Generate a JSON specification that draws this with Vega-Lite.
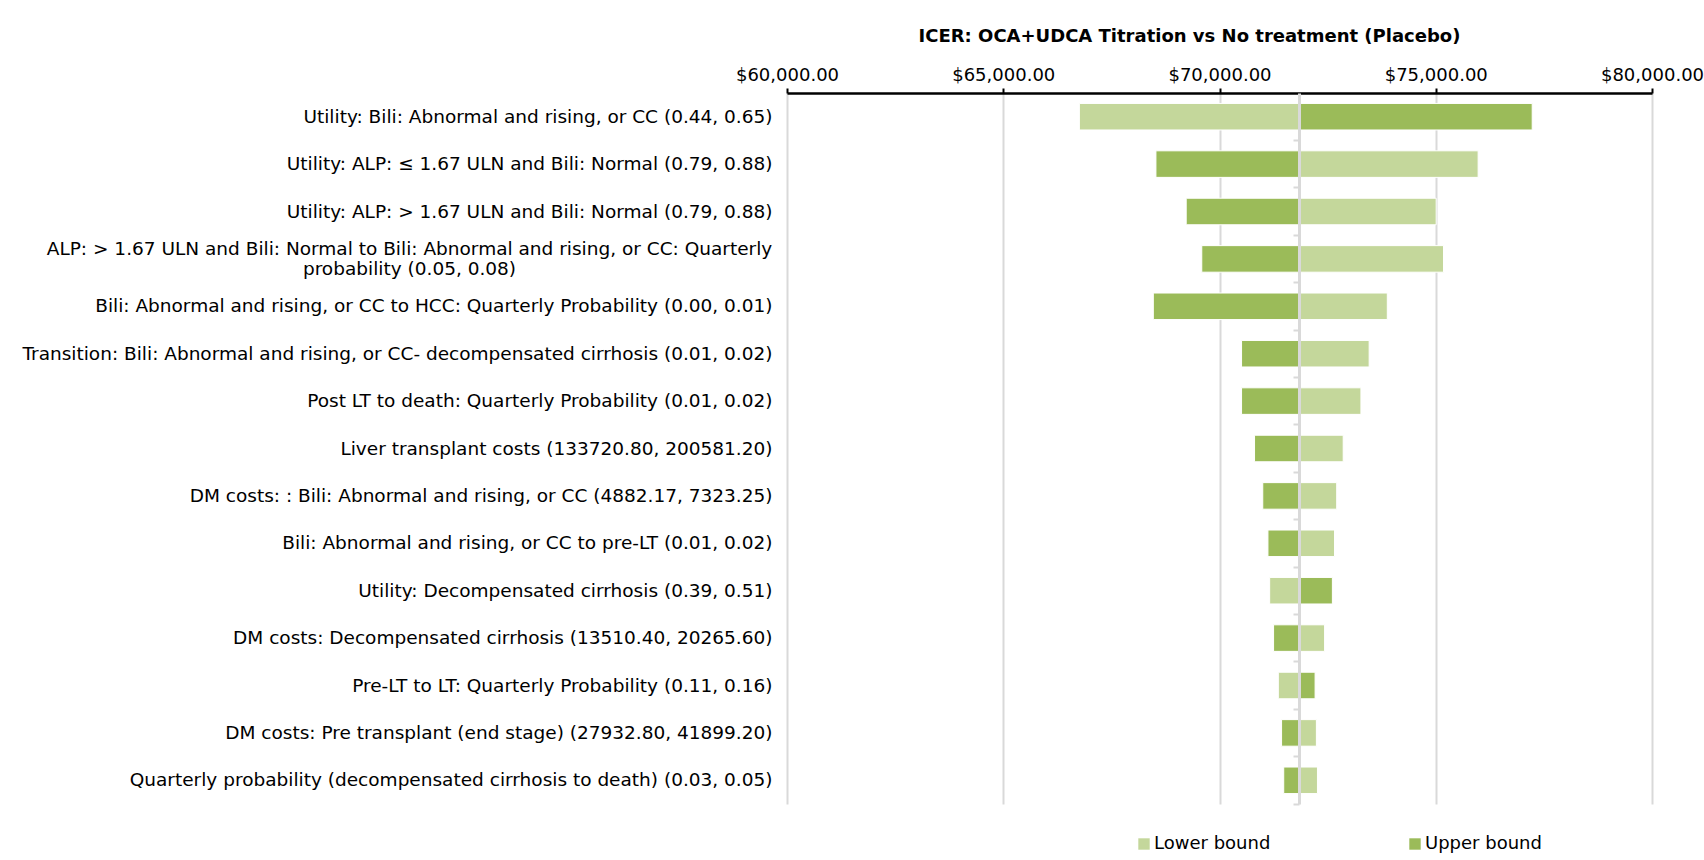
{
  "$schema": "https://vega.github.io/schema/vega-lite/v6.json",
  "width": 865,
  "height": 711,
  "autosize": {"type": "none"},
  "padding": {"left": 787, "top": 93, "right": 52, "bottom": 56},
  "background": "#ffffff",
  "config": {
    "view": {"stroke": null},
    "font": "DejaVu Sans",
    "axis": {"labelFont": "DejaVu Sans", "labelColor": "#000000"},
    "legend": {"labelFont": "DejaVu Sans", "labelColor": "#000000"}
  },
  "title": {
    "text": "ICER: OCA+UDCA  Titration vs No treatment (Placebo)",
    "font": "DejaVu Sans",
    "fontSize": 18,
    "fontWeight": "bold",
    "color": "#000000",
    "anchor": "middle",
    "dx": -30,
    "offset": 20
  },
  "data": {
    "values": [
      {"param": "Utility: Bili: Abnormal and rising, or CC (0.44, 0.65)", "bound": "Lower bound", "value": 66760},
      {"param": "Utility: Bili: Abnormal and rising, or CC (0.44, 0.65)", "bound": "Upper bound", "value": 77230},
      {"param": "Utility: ALP: ≤ 1.67 ULN and Bili: Normal (0.79, 0.88)", "bound": "Lower bound", "value": 75980},
      {"param": "Utility: ALP: ≤ 1.67 ULN and Bili: Normal (0.79, 0.88)", "bound": "Upper bound", "value": 68530},
      {"param": "Utility: ALP: > 1.67 ULN and Bili: Normal (0.79, 0.88)", "bound": "Lower bound", "value": 75010},
      {"param": "Utility: ALP: > 1.67 ULN and Bili: Normal (0.79, 0.88)", "bound": "Upper bound", "value": 69230},
      {"param": "ALP: > 1.67 ULN and Bili: Normal to Bili: Abnormal and rising, or CC: Quarterly|probability (0.05, 0.08)", "bound": "Lower bound", "value": 75180},
      {"param": "ALP: > 1.67 ULN and Bili: Normal to Bili: Abnormal and rising, or CC: Quarterly|probability (0.05, 0.08)", "bound": "Upper bound", "value": 69590},
      {"param": "Bili: Abnormal and rising, or CC to HCC: Quarterly Probability (0.00, 0.01)", "bound": "Lower bound", "value": 73880},
      {"param": "Bili: Abnormal and rising, or CC to HCC: Quarterly Probability (0.00, 0.01)", "bound": "Upper bound", "value": 68470},
      {"param": "Transition: Bili: Abnormal and rising, or CC- decompensated cirrhosis (0.01, 0.02)", "bound": "Lower bound", "value": 73460},
      {"param": "Transition: Bili: Abnormal and rising, or CC- decompensated cirrhosis (0.01, 0.02)", "bound": "Upper bound", "value": 70510},
      {"param": "Post LT to death: Quarterly Probability (0.01, 0.02)", "bound": "Lower bound", "value": 73270},
      {"param": "Post LT to death: Quarterly Probability (0.01, 0.02)", "bound": "Upper bound", "value": 70510},
      {"param": "Liver transplant costs (133720.80, 200581.20)", "bound": "Lower bound", "value": 72860},
      {"param": "Liver transplant costs (133720.80, 200581.20)", "bound": "Upper bound", "value": 70810},
      {"param": "DM costs: : Bili: Abnormal and rising, or CC (4882.17, 7323.25)", "bound": "Lower bound", "value": 72710},
      {"param": "DM costs: : Bili: Abnormal and rising, or CC (4882.17, 7323.25)", "bound": "Upper bound", "value": 71000},
      {"param": "Bili: Abnormal and rising, or CC to pre-LT (0.01, 0.02)", "bound": "Lower bound", "value": 72660},
      {"param": "Bili: Abnormal and rising, or CC to pre-LT (0.01, 0.02)", "bound": "Upper bound", "value": 71120},
      {"param": "Utility: Decompensated cirrhosis (0.39, 0.51)", "bound": "Lower bound", "value": 71160},
      {"param": "Utility: Decompensated cirrhosis (0.39, 0.51)", "bound": "Upper bound", "value": 72610},
      {"param": "DM costs: Decompensated cirrhosis (13510.40, 20265.60)", "bound": "Lower bound", "value": 72430},
      {"param": "DM costs: Decompensated cirrhosis (13510.40, 20265.60)", "bound": "Upper bound", "value": 71250},
      {"param": "Pre-LT to LT: Quarterly Probability (0.11, 0.16)", "bound": "Lower bound", "value": 71360},
      {"param": "Pre-LT to LT: Quarterly Probability (0.11, 0.16)", "bound": "Upper bound", "value": 72210},
      {"param": "DM costs: Pre transplant (end stage) (27932.80, 41899.20)", "bound": "Lower bound", "value": 72240},
      {"param": "DM costs: Pre transplant (end stage) (27932.80, 41899.20)", "bound": "Upper bound", "value": 71435},
      {"param": "Quarterly probability (decompensated cirrhosis to death) (0.03, 0.05)", "bound": "Lower bound", "value": 72265},
      {"param": "Quarterly probability (decompensated cirrhosis to death) (0.03, 0.05)", "bound": "Upper bound", "value": 71485}
    ]
  },
  "resolve": {"axis": {"y": "independent"}},
  "layer": [
    {
      "mark": {"type": "bar", "stroke": "#ffffff", "strokeWidth": 1},
      "encoding": {
        "y": {
          "field": "param",
          "type": "nominal",
          "sort": null,
          "scale": {"paddingInner": 0.44, "paddingOuter": 0.22},
          "axis": {
            "orient": "left",
            "title": null,
            "ticks": false,
            "domain": false,
            "labelFontSize": 18.5,
            "labelLimit": 900,
            "labelLineHeight": 20,
            "labelOffset": {"condition": {"test": "indexof(datum.label, '|') >= 0", "value": -10}, "value": 0},
            "labelAlign": {"condition": {"test": "indexof(datum.label, '|') >= 0", "value": "center"}, "value": "right"},
            "labelPadding": {"condition": {"test": "indexof(datum.label, '|') >= 0", "value": 378}, "value": 15},
            "labelExpr": "split(datum.label, '|')"
          }
        },
        "x": {
          "field": "value",
          "type": "quantitative",
          "scale": {"domain": [60000, 80000], "nice": false, "zero": false},
          "axis": {
            "orient": "top",
            "title": null,
            "values": [60000, 65000, 70000, 75000, 80000],
            "format": "$,.2f",
            "labelFontSize": 18,
            "labelPadding": 4,
            "labelFlush": false,
            "labelOverlap": false,
            "grid": true,
            "gridColor": "#D9D9D9",
            "gridWidth": 2,
            "domainColor": "#000000",
            "domainWidth": 2.5,
            "tickColor": "#000000",
            "tickWidth": 2,
            "tickSize": 5,
            "zindex": 0
          }
        },
        "x2": {"datum": 71840},
        "color": {
          "field": "bound",
          "type": "nominal",
          "scale": {"domain": ["Lower bound", "Upper bound"], "range": ["#C4D79B", "#9BBB59"]},
          "legend": {
            "orient": "none",
            "legendX": 348,
            "legendY": 742,
            "direction": "horizontal",
            "title": null,
            "padding": 0,
            "symbolType": "square",
            "symbolSize": 130,
            "symbolStrokeWidth": 0,
            "labelFontSize": 18,
            "labelOffset": 1,
            "columnPadding": 135
          }
        }
      }
    },
    {
      "mark": {"type": "rule", "opacity": 0},
      "encoding": {
        "y": {
          "field": "param",
          "type": "nominal",
          "sort": null,
          "axis": {
            "orient": "left",
            "offset": -512,
            "title": null,
            "labels": false,
            "bandPosition": 1.393,
            "domain": true,
            "domainColor": "#D9D9D9",
            "domainWidth": 3,
            "ticks": true,
            "tickColor": "#D9D9D9",
            "tickWidth": 2,
            "tickSize": 6,
            "grid": false,
            "zindex": 2
          }
        }
      }
    }
  ]
}
